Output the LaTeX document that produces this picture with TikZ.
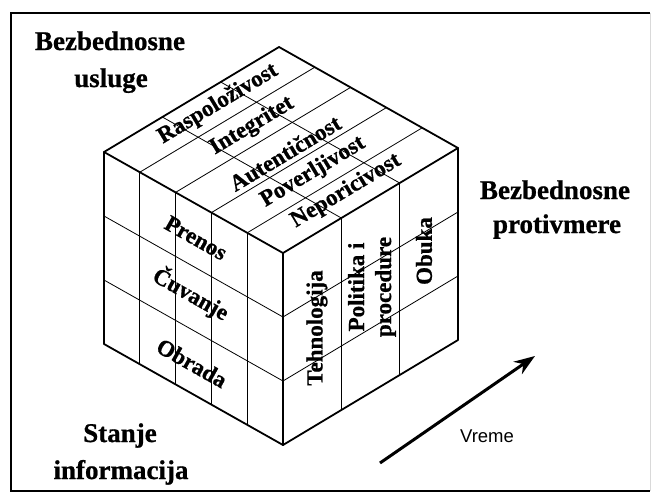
\documentclass[tikz,border=0pt]{standalone}
\usepackage{fontspec}
\setmainfont{Liberation Serif}[BoldFeatures={FakeBold=0.8}]
\newfontfamily\vremefont{Liberation Sans}
\usetikzlibrary{calc,arrows.meta}
\begin{document}
\begin{tikzpicture}[x=1pt,y=-1pt,
  frame/.style={line width=2pt},
  cubeedge/.style={line width=1.8pt, line join=round, line cap=round},
  gridline/.style={line width=0.8pt},
  biglabel/.style={font=\fontsize{27}{32}\selectfont\bfseries, inner sep=0pt, anchor=base},
  celllabel/.style={font=\fontsize{23}{27}\selectfont\bfseries, inner sep=0pt, anchor=center},
  timearrow/.style={line width=3pt, -{Stealth[length=21pt,width=15pt]}}
]
\useasboundingbox (0,0) rectangle (653,493);
\fill[white] (0,0) rectangle (653,493);
% frame
\draw[frame] (650,13) -- (11,13) -- (11,491) -- (650,491);
\draw[line width=0.8pt, black!15] (650,13) -- (650,491);

% cube corners
\coordinate (F)  at (283,253);
\coordinate (Lv) at (104,152);
\coordinate (Rv) at (458,148);
\coordinate (T)  at (279,47);
\coordinate (FB) at (283,445);
\coordinate (LB) at (104,344);
\coordinate (RB) at (458,340);

% inner grid
\foreach \a in {0.2,0.4,0.6,0.8} {
  \draw[gridline] ($(F)!\a!(Lv)$) -- ($(Rv)!\a!(T)$);
  \draw[gridline] ($(F)!\a!(Lv)$) -- ($(FB)!\a!(LB)$);
}
\foreach \b in {0.33333,0.66667} {
  \draw[gridline] ($(F)!\b!(Rv)$) -- ($(Lv)!\b!(T)$);
  \draw[gridline] ($(F)!\b!(Rv)$) -- ($(FB)!\b!(RB)$);
  \draw[gridline] ($(F)!\b!(FB)$) -- ($(Lv)!\b!(LB)$);
  \draw[gridline] ($(F)!\b!(FB)$) -- ($(Rv)!\b!(RB)$);
}

% cube outline
\draw[cubeedge] (T) -- (Lv) -- (LB) -- (FB) -- (RB) -- (Rv) -- cycle;
\draw[cubeedge] (Lv) -- (F) -- (Rv);
\draw[cubeedge] (F) -- (FB);

% top face labels
\node[celllabel, rotate=31] (ras) at (218,104) {Raspoloživost};
\node[celllabel, rotate=31] (int) at (252,126) {Integritet};
\node[celllabel, rotate=31] (aut) at (285,153) {Autentičnost};
\node[celllabel, rotate=31] (pov) at (313,172) {Poverljivost};
\node[celllabel, rotate=31] (nep) at (346,191) {Neporicivost};

% left face labels
\node[celllabel, rotate=-29.4] (pre) at (196,238) {Prenos};
\node[celllabel, rotate=-29.4] (cuv) at (191,294) {Čuvanje};
\node[celllabel, rotate=-29.4] (obr) at (192,363) {Obrada};

% right face labels
\node[celllabel, rotate=90] (teh) at (317,328) {Tehnologija};
\node[celllabel, rotate=90, align=center] (pol) at (372,287) {Politika i\\procedure};
\node[celllabel, rotate=90] (obu) at (424,251) {Obuka};

% big labels
\node[biglabel] (bu1) at (110,50) {Bezbednosne};
\node[biglabel] (bu2) at (111,87) {usluge};
\node[biglabel] (bp1) at (555,199) {Bezbednosne};
\node[biglabel] (bp2) at (557,233) {protivmere};
\node[biglabel] (si1) at (120,442) {Stanje};
\node[biglabel] (si2) at (121,479) {informacija};

% time arrow
\coordinate (t0) at (380,463);
\coordinate (t1) at (535,356);
\draw[timearrow] (t0) -- (t1);
\node[font=\vremefont\fontsize{18.5}{20}\selectfont, inner sep=0pt, anchor=base] (vr) at (487,442) {Vreme};
\end{tikzpicture}
\end{document}
